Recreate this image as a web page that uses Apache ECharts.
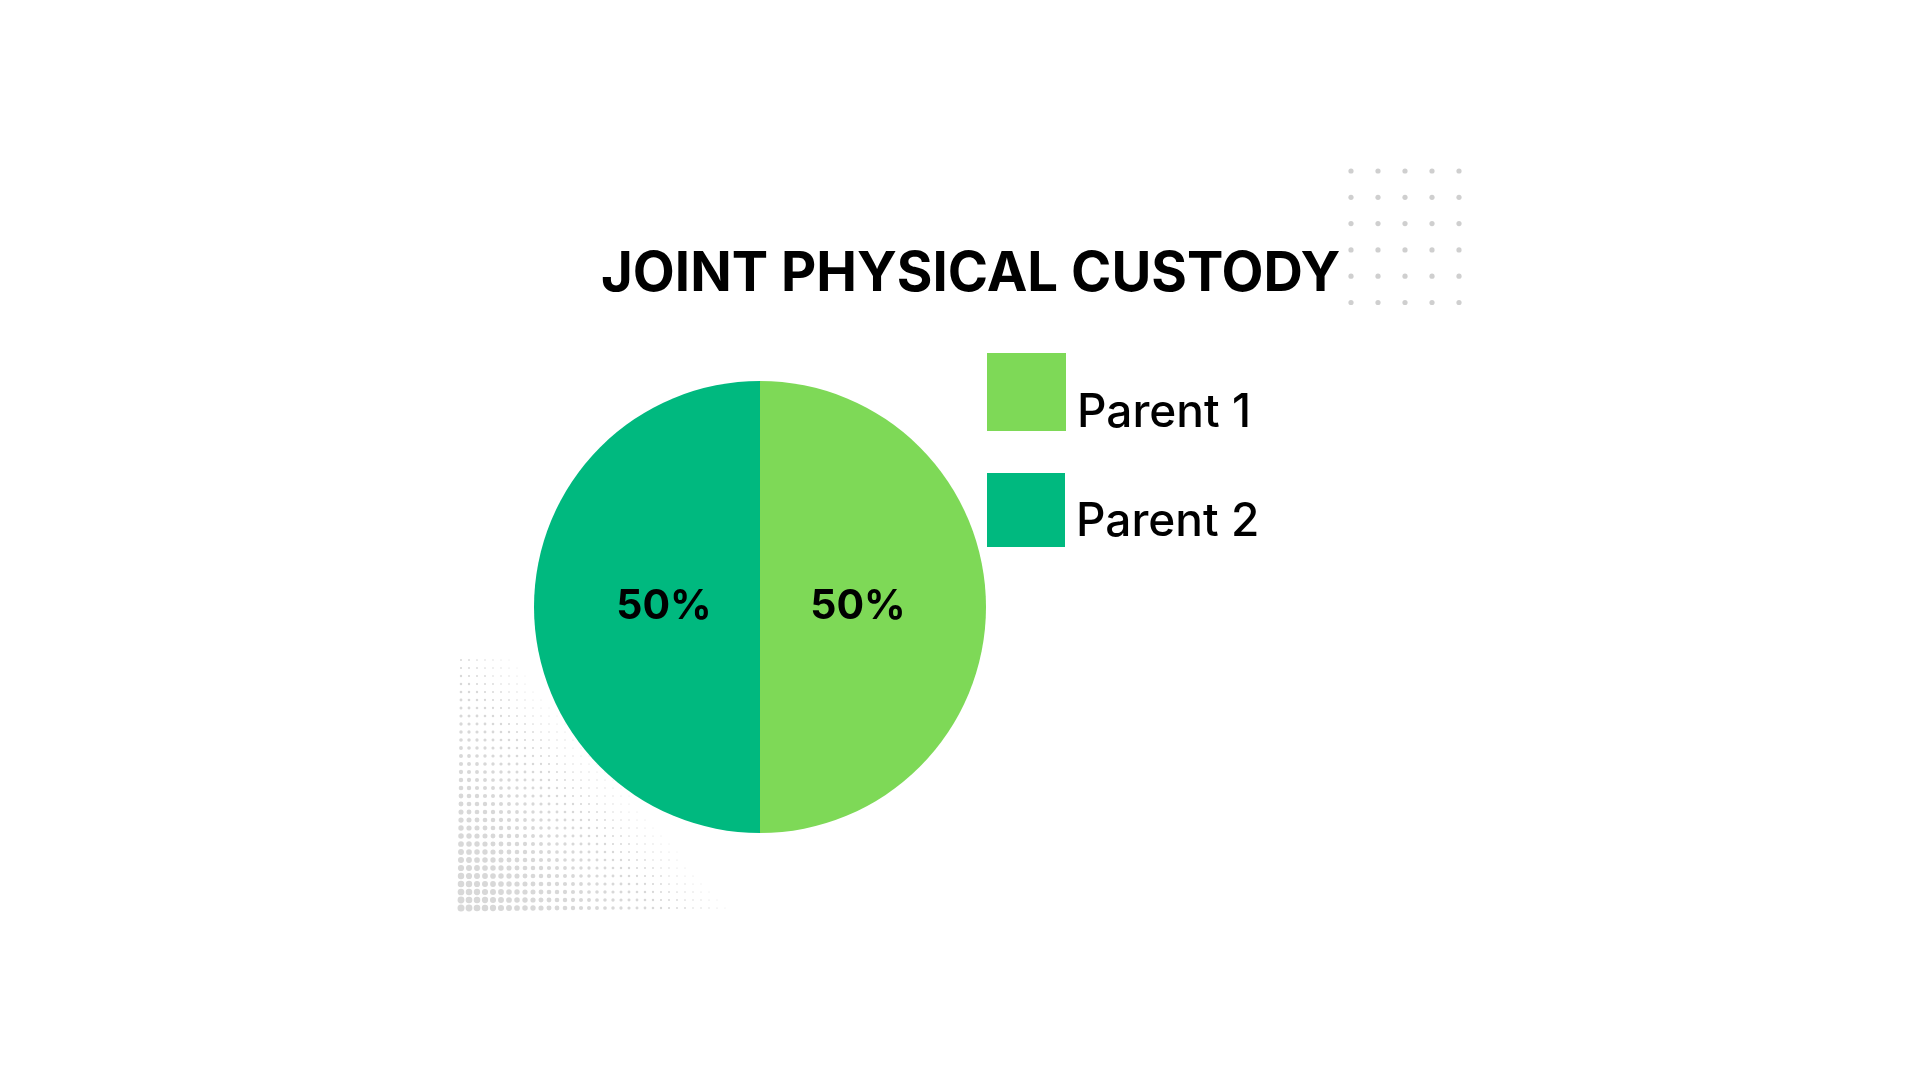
<!DOCTYPE html>
<html>
<head>
<meta charset="utf-8">
<style>html,body{margin:0;padding:0;background:#fff;}#chart{width:1920px;height:1080px;}</style>
<script src="https://cdn.jsdelivr.net/npm/echarts@6/dist/echarts.min.js"></script>
</head>
<body>
<div id="chart"></div>
<script>
var titleText = 'JOINT PHYSICAL CUSTODY';
var categories = ['Parent 1', 'Parent 2'];
var values = [50, 50];
var colors = ['#7ed957', '#00b97f'];

var chart = echarts.init(document.getElementById('chart'));

// decorative dot grids
var deco = [];
for (var c = 0; c < 5; c++) {
  for (var r = 0; r < 6; r++) {
    deco.push({type: 'circle', silent: true, z: 0,
      shape: {cx: 1351 + c * 27, cy: 171 + r * 26.3, r: 2.6},
      style: {fill: '#cfcfcf'}});
  }
}
for (var i = 0; i < 40; i++) {
  for (var j = 0; j < 32; j++) {
    var t = i / 38 + j / 44;
    var rad = 3.5 * (1 - t);
    if (rad < 0.45) continue;
    deco.push({type: 'circle', silent: true, z: 0,
      shape: {cx: 461 + i * 8, cy: 908 - j * 8, r: rad},
      style: {fill: '#d8d8d8'}});
  }
}

var pieData = categories.map(function (n, k) {
  return {name: n, value: values[k], itemStyle: {color: colors[k]},
    label: {padding: k === 0 ? [6, 36, 0, 0] : [6, 0, 0, 40]}};
});

function makeLegend(k, top, w, h, spacer) {
  return {
    orient: 'vertical', left: 987, top: top, icon: 'rect', padding: 0,
    itemWidth: w, itemHeight: h, selectedMode: false,
    data: [categories[k]],
    formatter: function (name) { return '{s| }\n{t|' + name + '}'; },
    textStyle: {
      padding: [0, 0, 0, 6],
      rich: {
        s: {height: spacer, fontSize: 2},
        t: {fontFamily: 'Inter', fontWeight: 500, fontSize: 46, color: '#000'}
      }
    }
  };
}

chart.setOption({
  backgroundColor: '#ffffff',
  animation: false,
  title: {
    text: titleText, left: 601, top: 247, padding: 0,
    textStyle: {fontFamily: 'Inter', fontWeight: 'bold', fontSize: 54.5, color: '#000'}
  },
  legend: [
    makeLegend(0, 353, 79, 78, 42),
    makeLegend(1, 473, 78, 74, 25)
  ],
  graphic: deco,
  series: [{
    type: 'pie', center: [760, 607], radius: 226, startAngle: 90, clockwise: true,
    z: 2,
    label: {show: true, position: 'inside', formatter: '{d}%',
      fontFamily: 'Inter', fontWeight: 'bold', fontSize: 41, color: '#000'},
    labelLine: {show: false},
    emphasis: {disabled: true},
    data: pieData
  }]
});
</script>
</body>
</html>
